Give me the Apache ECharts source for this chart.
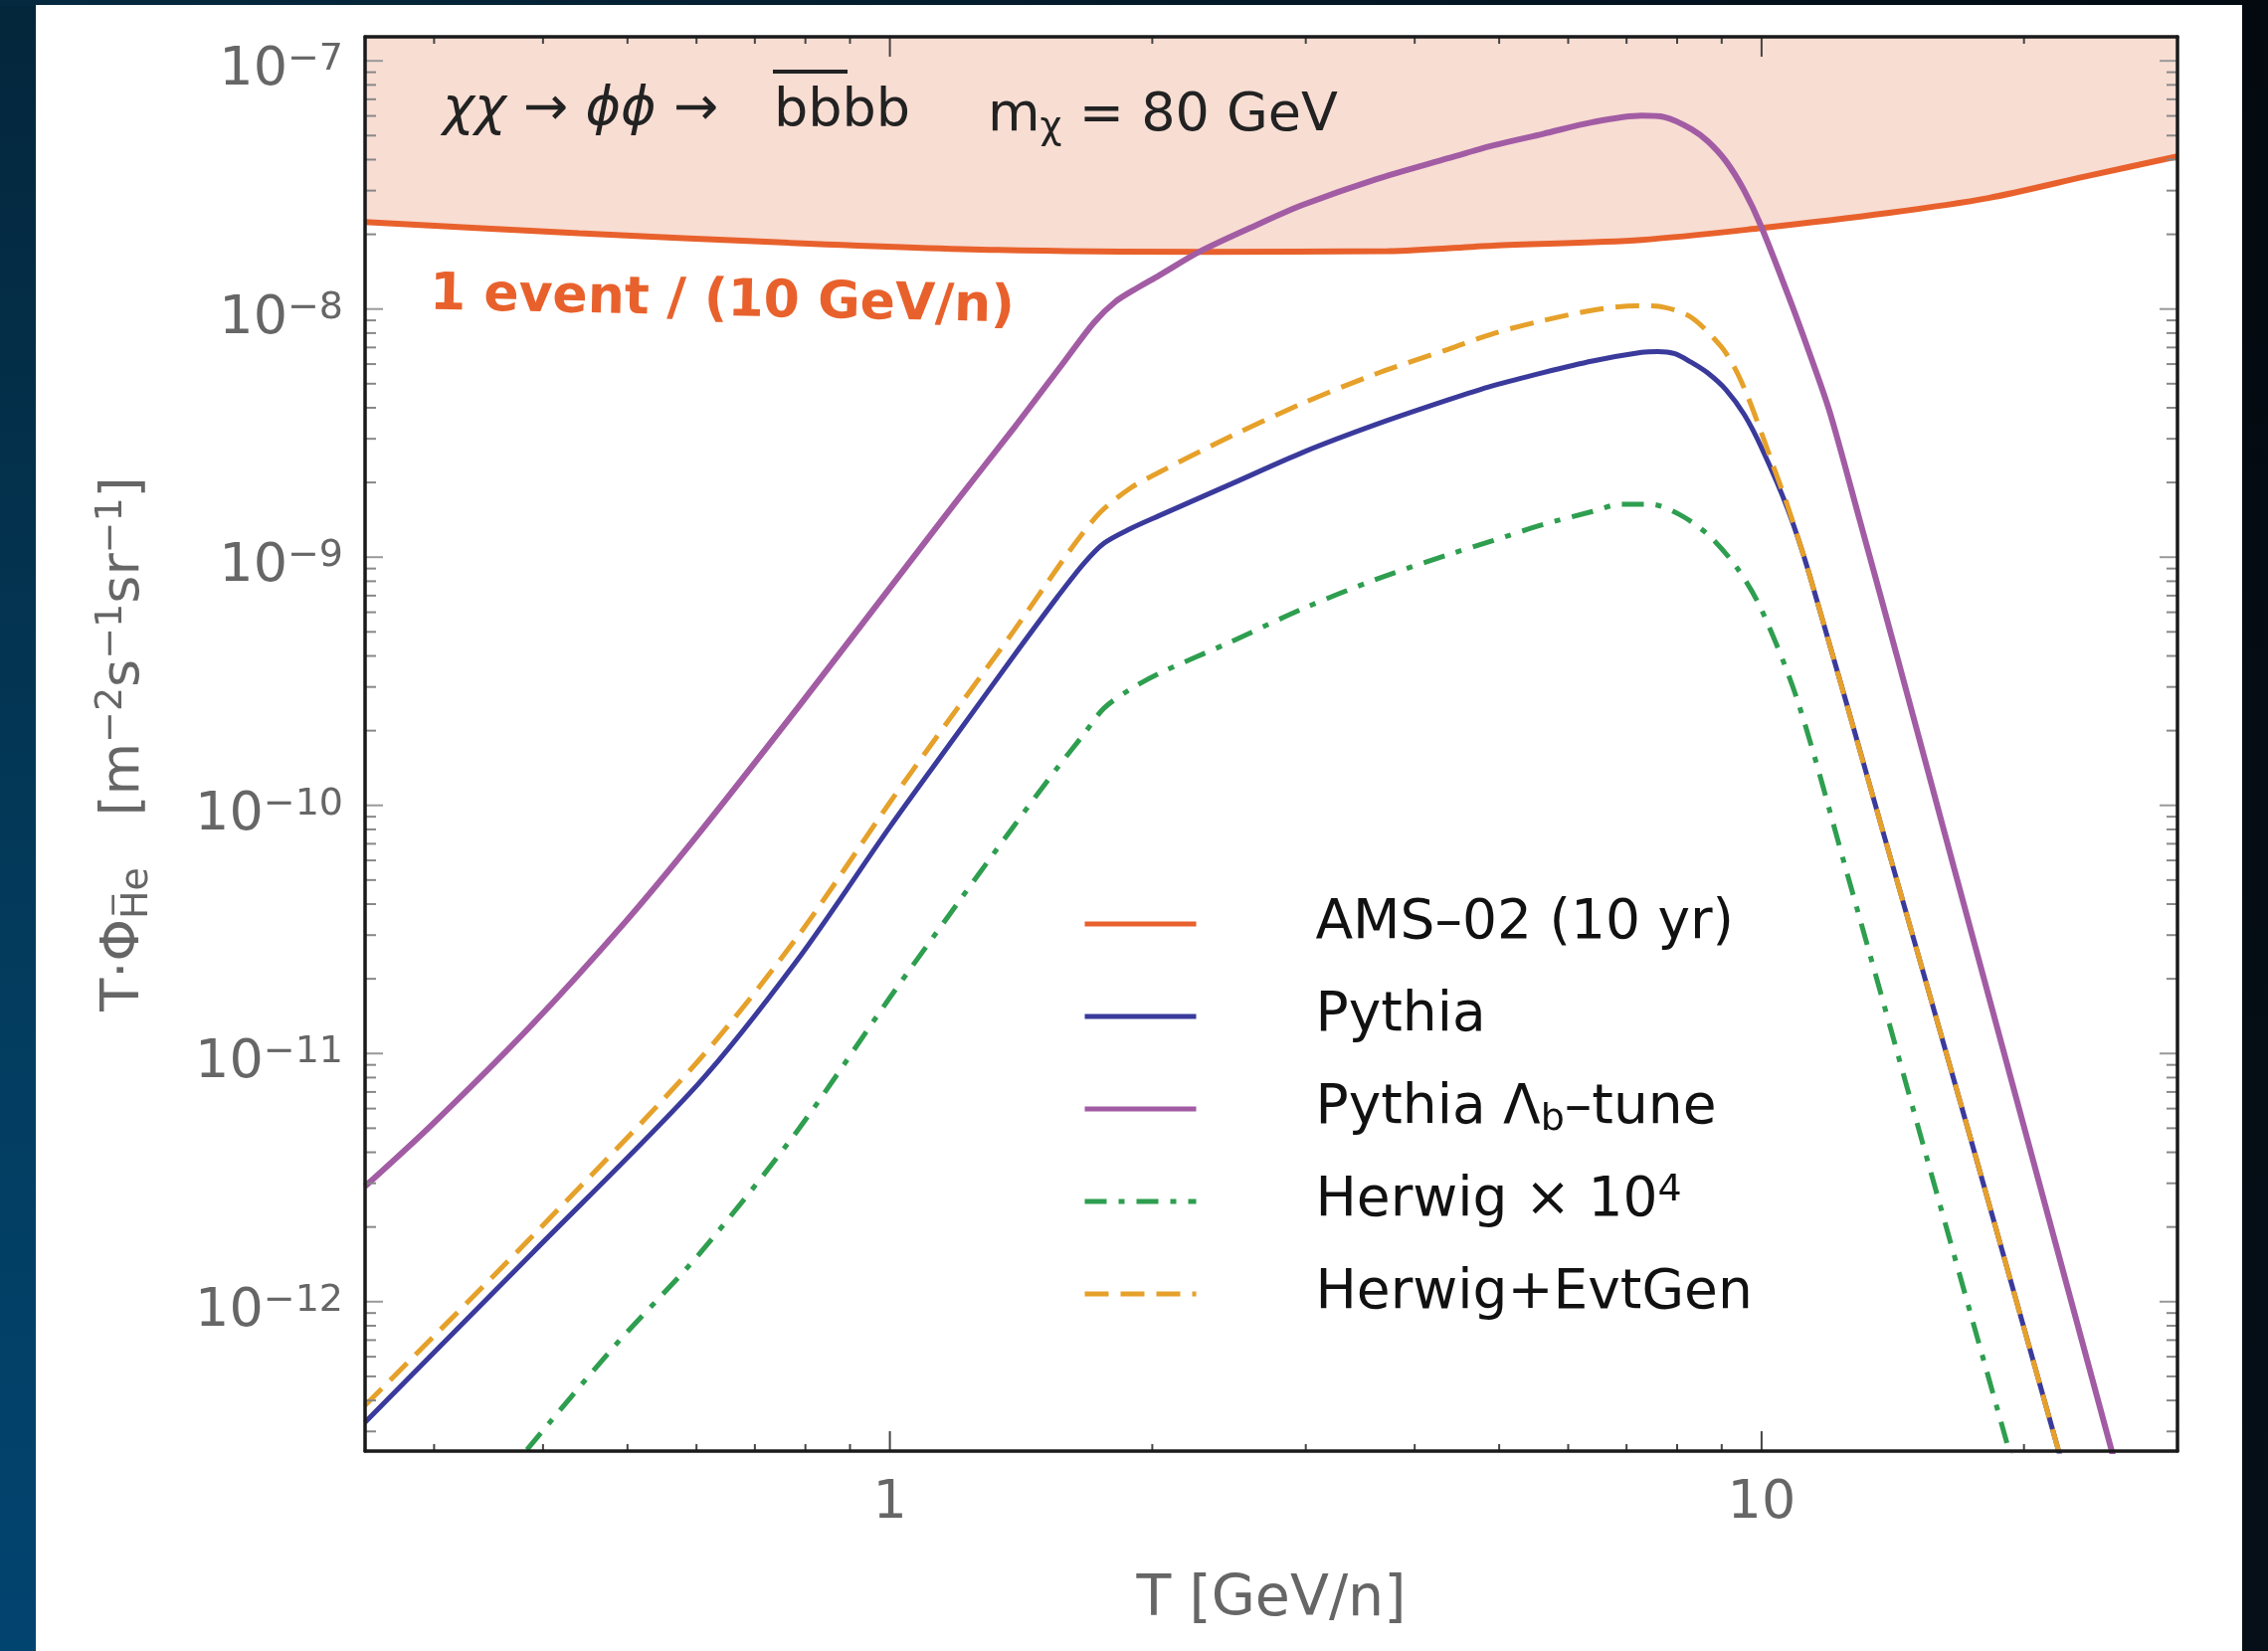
<!DOCTYPE html>
<html><head><meta charset="utf-8">
<script src="https://cdn.jsdelivr.net/npm/echarts@6/dist/echarts.min.js"></script>
<style>
html,body{margin:0;padding:0;width:2280px;height:1660px;overflow:hidden;
background:linear-gradient(to bottom,#04263b 0%,#033c5e 60%,#024470 100%);}
#topband{position:absolute;left:0;top:0;width:2280px;height:6px;background:linear-gradient(to right,#052a40,#020a12);}
#bgR{position:absolute;left:2254px;top:0;width:26px;height:1660px;background:linear-gradient(#03090f,#060f18);}
#card{position:absolute;left:36px;top:5px;width:2218px;height:1655px;background:#fff;}
#chart{position:absolute;left:0;top:0;width:2280px;height:1660px;}
</style></head>
<body><div id="topband"></div><div id="bgR"></div><div id="card"></div><div id="chart"></div>
<script>
// ---------------- data ----------------
const X_MIN = 0.25, X_MAX = 30;
const Y_MIN = 2.5e-13, Y_MAX = 1.25e-7;

const xTickLabels = {1: '1', 10: '10'};
const xMajorTicks = [1, 10];
const xMinorTicks = [0.3, 0.4, 0.5, 0.6, 0.7, 0.8, 0.9, 2, 3, 4, 5, 6, 7, 8, 9, 20];
const yMajorTicks = [1e-12, 1e-11, 1e-10, 1e-9, 1e-8, 1e-7];
const yMinorTicks = [3e-13,4e-13,5e-13,6e-13,7e-13,8e-13,9e-13,
  2e-12,3e-12,4e-12,5e-12,6e-12,7e-12,8e-12,9e-12,
  2e-11,3e-11,4e-11,5e-11,6e-11,7e-11,8e-11,9e-11,
  2e-10,3e-10,4e-10,5e-10,6e-10,7e-10,8e-10,9e-10,
  2e-9,3e-9,4e-9,5e-9,6e-9,7e-9,8e-9,9e-9,
  2e-8,3e-8,4e-8,5e-8,6e-8,7e-8,8e-8,9e-8];

const seriesNames = ['AMS–02 (10 yr)', 'Pythia', 'Pythia Λb–tune', 'Herwig × 10^4', 'Herwig+EvtGen'];

// AMS-02 10-year sensitivity (1 event per 10 GeV/n)
const amsT = [0.25, 0.44, 0.765, 1.33, 2.31, 3.73, 4.92, 7.28, 10, 14, 18.2, 23.6, 30];
const amsV = [2.24e-8, 2.02e-8, 1.85e-8, 1.73e-8, 1.70e-8, 1.71e-8, 1.80e-8, 1.90e-8, 2.12e-8, 2.44e-8, 2.80e-8, 3.43e-8, 4.12e-8];

// Pythia
const pythiaT = [0.25, 0.3888, 0.6027, 0.7832, 1, 1.192, 1.389, 1.557, 1.669, 1.760, 1.886, 2.035, 2.463, 2.981, 3.608, 4.366, 4.926, 5.618, 6.397, 7.285, 7.598, 7.954, 8.310, 8.682, 9.107, 9.552, 10.0, 10.71, 11.34, 13.73, 17.27, 21.89, 23.43];
const pythiaV = [3.27e-13, 1.57e-12, 7.54e-12, 2.38e-11, 8.19e-11, 1.92e-10, 4.03e-10, 6.92e-10, 9.43e-10, 1.138e-9, 1.301e-9, 1.468e-9, 1.972e-9, 2.65e-9, 3.42e-9, 4.297e-9, 4.914e-9, 5.546e-9, 6.175e-9, 6.69e-9, 6.74e-9, 6.60e-9, 6.09e-9, 5.51e-9, 4.72e-9, 3.757e-9, 2.759e-9, 1.57e-9, 8.58e-10, 8.19e-11, 4.88e-12, 2.54e-13, 1.107e-13];

// Pythia Lambda_b tune
const tuneT = [0.25, 0.2989, 0.3888, 0.4953, 0.6027, 0.7832, 1, 1.192, 1.389, 1.587, 1.714, 1.815, 1.922, 2.035, 2.273, 2.658, 2.981, 3.608, 4.366, 4.926, 5.618, 6.397, 7.285, 7.744, 8.310, 8.682, 9.107, 9.552, 9.98, 10.75, 11.34, 11.97, 12.96, 14.27, 16.62, 20.12, 25.22, 26.79];
const tuneV = [2.915e-12, 5.20e-12, 1.31e-11, 3.339e-11, 7.645e-11, 2.461e-10, 7.52e-10, 1.679e-9, 3.33e-9, 6.175e-9, 8.81e-9, 1.071e-8, 1.216e-8, 1.364e-8, 1.713e-8, 2.212e-8, 2.633e-8, 3.331e-8, 4.046e-8, 4.565e-8, 5.08e-8, 5.66e-8, 6.01e-8, 5.93e-8, 5.31e-8, 4.73e-8, 3.93e-8, 3.00e-8, 2.17e-8, 1.115e-8, 6.69e-9, 3.86e-9, 1.41e-9, 4.1e-10, 5.62e-11, 4.69e-12, 2.5e-13, 1.136e-13];

// Herwig x 10^4
const herwigT = [0.3513, 0.3836, 0.4846, 0.6027, 0.7832, 1, 1.192, 1.389, 1.557, 1.669, 1.760, 1.886, 2.035, 2.463, 2.981, 3.608, 4.366, 4.926, 5.618, 6.397, 6.904, 7.454, 8.043, 8.682, 9.373, 10.0, 11.0, 12.48, 15.46, 19.21, 20.11];
const herwigV = [1.748e-13, 2.54e-13, 6.7e-13, 1.539e-12, 4.883e-12, 1.68e-11, 3.966e-11, 8.3e-11, 1.42e-10, 1.933e-10, 2.461e-10, 2.932e-10, 3.398e-10, 4.566e-10, 6.217e-10, 8.129e-10, 1.022e-9, 1.168e-9, 1.354e-9, 1.528e-9, 1.635e-9, 1.635e-9, 1.488e-9, 1.233e-9, 9.05e-10, 6.135e-10, 2.633e-10, 5.62e-11, 3.835e-12, 2.54e-13, 1.429e-13];

// Herwig + EvtGen
const evtgenT = [0.25, 0.3888, 0.6027, 0.7832, 1, 1.192, 1.389, 1.557, 1.650, 1.747, 1.886, 2.035, 2.463, 2.981, 3.608, 4.366, 4.926, 5.618, 6.397, 7.191, 7.744, 8.310, 8.986, 9.336, 9.662, 10.0, 10.35, 10.71, 11.34, 13.73, 17.27, 21.89, 23.43];
const evtgenV = [3.82e-13, 1.835e-12, 9.33e-12, 2.951e-11, 1.028e-10, 2.428e-10, 5.08e-10, 9.05e-10, 1.2e-9, 1.528e-9, 1.895e-9, 2.196e-9, 3.073e-9, 4.184e-9, 5.473e-9, 6.876e-9, 7.97e-9, 8.99e-9, 9.88e-9, 1.031e-8, 1.015e-8, 9.24e-9, 7.06e-9, 5.70e-9, 4.356e-9, 3.155e-9, 2.256e-9, 1.613e-9, 8.58e-10, 8.19e-11, 4.88e-12, 2.54e-13, 1.107e-13];

// ---------------- chart ----------------
const FONT = 'DejaVu Sans';
const C_AMS = '#e8612c', C_PY = '#3a3a9c', C_TUNE = '#a25ca4', C_HW = '#2e9e4f', C_EG = '#e6a12a';
const zip = (a, b) => a.map((t, i) => [t, b[i]]);

function tickSeries(data, isX, len, color, width) {
  return {
    type: 'custom', silent: true, clip: false, z: 9,
    xAxisIndex: 0, yAxisIndex: 0,
    data: data.map(v => isX ? [v, Y_MIN] : [X_MIN, v]),
    renderItem: function (params, api) {
      const cs = params.coordSys;
      const style = {stroke: color, lineWidth: width};
      if (isX) {
        const px = api.coord([api.value(0), Y_MIN])[0];
        return {type: 'group', children: [
          {type: 'line', shape: {x1: px, y1: cs.y + cs.height, x2: px, y2: cs.y + cs.height - len}, style: style},
          {type: 'line', shape: {x1: px, y1: cs.y, x2: px, y2: cs.y + len}, style: style}
        ]};
      } else {
        const py = api.coord([X_MIN, api.value(1)])[1];
        return {type: 'group', children: [
          {type: 'line', shape: {x1: cs.x, y1: py, x2: cs.x + len, y2: py}, style: style},
          {type: 'line', shape: {x1: cs.x + cs.width, y1: py, x2: cs.x + cs.width - len, y2: py}, style: style}
        ]};
      }
    }
  };
}

const legendLabel = {
  'AMS–02 (10 yr)': 'AMS–02 (10 yr)',
  'Pythia': 'Pythia',
  'Pythia Λb–tune': 'Pythia Λ{sub|b}–tune',
  'Herwig × 10^4': 'Herwig × 10{sup|4}',
  'Herwig+EvtGen': 'Herwig+EvtGen'
};

const chart = echarts.init(document.getElementById('chart'), null, {renderer: 'canvas', width: 2280, height: 1660});
const axisLineStyle = {color: '#1a1a1a', width: 3.5};

chart.setOption({
  animation: false,
  backgroundColor: 'transparent',
  grid: {left: 367, top: 37, width: 1822, height: 1422, containLabel: false},
  xAxis: [{
    type: 'log', logBase: 10, min: X_MIN, max: X_MAX, z: 10,
    axisLine: {show: true, onZero: false, lineStyle: axisLineStyle},
    axisTick: {show: false}, splitLine: {show: false}, minorTick: {show: false},
    axisLabel: {fontSize: 54, color: '#666', fontFamily: FONT, margin: 26, showMinLabel: false, showMaxLabel: false,
      formatter: v => { const k = Math.round(v); return (Math.abs(v - k) < 1e-9 && xTickLabels[k]) ? xTickLabels[k] : ''; }},
    name: 'T [GeV/n]', nameLocation: 'middle', nameGap: 122,
    nameTextStyle: {fontSize: 57, color: '#666', fontFamily: FONT}
  }, {
    type: 'log', logBase: 10, min: X_MIN, max: X_MAX, position: 'top', z: 10,
    axisLine: {show: true, onZero: false, lineStyle: axisLineStyle},
    axisTick: {show: false}, splitLine: {show: false}, axisLabel: {show: false}
  }],
  yAxis: [{
    type: 'log', logBase: 10, min: Y_MIN, max: Y_MAX, z: 10,
    axisLine: {show: true, onZero: false, lineStyle: axisLineStyle},
    axisTick: {show: false}, splitLine: {show: false}, minorTick: {show: false},
    axisLabel: {fontSize: 54, color: '#666', fontFamily: FONT, margin: 22, showMinLabel: false, showMaxLabel: false,
      padding: [20, 0, 0, 0], lineHeight: 60,
      formatter: v => { const e = Math.round(Math.log10(v)); if (Math.abs(v / Math.pow(10, e) - 1) > 1e-6) return ''; return '10{sup|−' + (-e) + '}'; },
      rich: {sup: {fontSize: 38, lineHeight: 38, verticalAlign: 'top', fontFamily: FONT, color: '#666'}}},
    name: 'T·Φ{sub|H̅e}   [m{sup|−2}s{sup|−1}sr{sup|−1}]', nameLocation: 'middle', nameGap: 210,
    nameTextStyle: {fontSize: 54, color: '#666', fontFamily: FONT, lineHeight: 64,
      rich: {sub: {fontSize: 38, lineHeight: 38, verticalAlign: 'bottom', color: '#666', fontFamily: FONT},
             sup: {fontSize: 38, lineHeight: 38, verticalAlign: 'top', color: '#666', fontFamily: FONT}}}
  }, {
    type: 'log', logBase: 10, min: Y_MIN, max: Y_MAX, position: 'right', z: 10,
    axisLine: {show: true, onZero: false, lineStyle: axisLineStyle},
    axisTick: {show: false}, splitLine: {show: false}, axisLabel: {show: false}
  }],
  legend: {
    orient: 'vertical', left: 1088, top: 899, padding: 0, itemWidth: 112, itemHeight: 6, itemGap: 33,
    data: seriesNames,
    formatter: n => legendLabel[n],
    lineStyle: {width: 5},
    itemStyle: {opacity: 0},
    textStyle: {fontSize: 55, fontFamily: FONT, color: '#111', lineHeight: 60, padding: [0, 0, 0, 115],
      rich: {sub: {fontSize: 38, lineHeight: 38, verticalAlign: 'bottom', fontFamily: FONT, color: '#111'},
             sup: {fontSize: 38, lineHeight: 38, verticalAlign: 'top', fontFamily: FONT, color: '#111'}}}
  },
  graphic: [
    {type: 'text', left: 445, top: 84, z: 20, style: {
      text: '{i|χχ} → {i|ϕϕ} →', fontSize: 54, fontFamily: FONT, fill: '#222',
      rich: {i: {fontStyle: 'italic', fontSize: 54, fontFamily: FONT, color: '#222'}}}},
    {type: 'text', left: 778, top: 86, z: 20, style: {text: 'bbbb', fontSize: 54, fontFamily: FONT, fill: '#222'}},
    {type: 'line', z: 20, shape: {x1: 777, y1: 72, x2: 852, y2: 72}, style: {stroke: '#222', lineWidth: 4}},
    {type: 'text', left: 993, top: 86, z: 20, style: {
      text: 'm{s|χ} = 80 GeV', fontSize: 54, fontFamily: FONT, fill: '#222', lineHeight: 62,
      rich: {s: {fontSize: 38, lineHeight: 14, verticalAlign: 'bottom', fontFamily: FONT, color: '#222'}}}},
    {type: 'text', x: 432, y: 297, rotation: -0.022, z: 20, style: {
      text: '1 event / (10 GeV/n)', fontSize: 52, fontWeight: 'bold', fontFamily: FONT, fill: C_AMS,
      verticalAlign: 'middle', align: 'left'}}
  ],
  series: [
    {name: seriesNames[0], type: 'line', data: zip(amsT, amsV), symbol: 'none', smooth: 0.3, z: 3,
      lineStyle: {color: C_AMS, width: 6}, itemStyle: {color: C_AMS},
      areaStyle: {origin: 'end', color: '#f8ddd3', opacity: 1}},
    {name: seriesNames[1], type: 'line', data: zip(pythiaT, pythiaV), symbol: 'none', smooth: 0.3, z: 4,
      lineStyle: {color: C_PY, width: 5}, itemStyle: {color: C_PY}},
    {name: seriesNames[2], type: 'line', data: zip(tuneT, tuneV), symbol: 'none', smooth: 0.3, z: 4,
      lineStyle: {color: C_TUNE, width: 6}, itemStyle: {color: C_TUNE}},
    {name: seriesNames[3], type: 'line', data: zip(herwigT, herwigV), symbol: 'none', smooth: 0.3, z: 4,
      lineStyle: {color: C_HW, width: 5, type: [22, 12, 6, 12]}, itemStyle: {color: C_HW}},
    {name: seriesNames[4], type: 'line', data: zip(evtgenT, evtgenV), symbol: 'none', smooth: 0.3, z: 5,
      lineStyle: {color: C_EG, width: 5, type: [24, 12]}, itemStyle: {color: C_EG}},
    tickSeries(xMajorTicks, true, 20, '#444', 2),
    tickSeries(xMinorTicks, true, 7, '#444', 2),
    tickSeries(yMajorTicks, false, 18, '#999', 2),
    tickSeries(yMinorTicks, false, 11, '#888', 2)
  ]
});
</script></body></html>
